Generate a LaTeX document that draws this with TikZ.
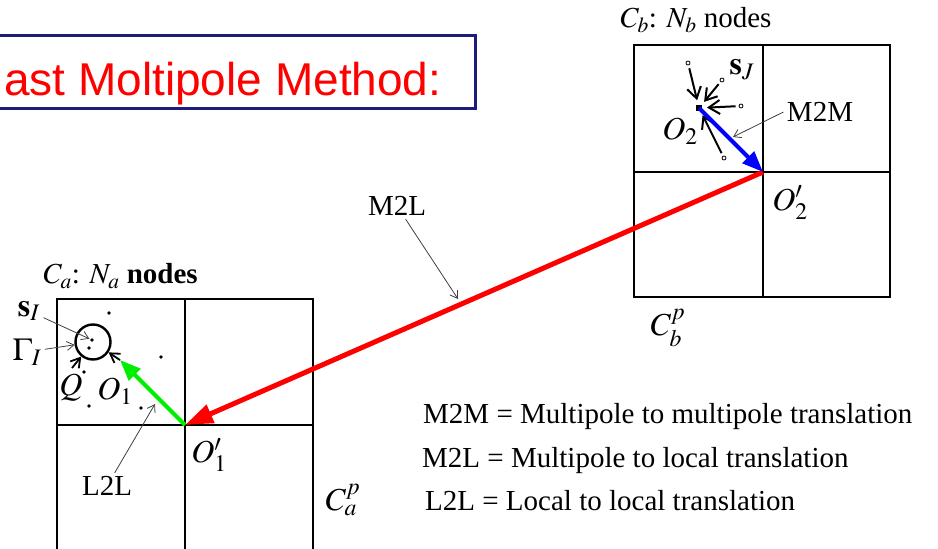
\documentclass[tikz,border=0pt]{standalone}
\usepackage{mathptmx}
\usepackage{fontspec}
\setmainfont{Liberation Serif}
\newfontfamily\titlefont{Liberation Sans}
\usetikzlibrary{arrows.meta}
\definecolor{framenavy}{HTML}{1C1C7C}
\definecolor{m2lred}{HTML}{FF0000}
\definecolor{m2mblue}{HTML}{0000FF}
\definecolor{l2lgreen}{HTML}{00EE00}

\begin{document}
\begin{tikzpicture}[x=1pt,y=-1pt,font=\fontsize{29}{34}\selectfont,
 cellgrid/.style={line width=2.6pt,line cap=rect},
 % Translation operators: flat filled heads, as in the slide.
 bigtransl/.style={line width=5pt,-{Triangle[length=28pt,width=19pt]}},
 transl/.style={line width=4pt,-{Triangle[length=21pt,width=16pt]}},
 pointer/.style={line width=0.8pt,black!75,
   -{Straight Barb[length=7pt,width=9pt]}},
 srcarrow/.style={line width=2pt,-{Straight Barb[length=11pt,width=14pt]},
   shorten >=8pt,shorten <=3pt},
 evalarrow/.style={line width=1.8pt,-{Straight Barb[length=9pt,width=11pt]}},
 tdot/.style={circle,fill,inner sep=0pt,minimum size=3.6pt},
 sdot/.style={circle,draw,fill=white,line width=0.8pt,inner sep=0pt,
   minimum size=4pt},
 mlbl/.style={font=\fontsize{32}{36}\selectfont},
 legend/.style={anchor=base west,inner sep=0pt}]
\useasboundingbox (0,0) rectangle (938,549);

% Title banner, cut by the left edge of the page.
\draw[framenavy,line width=3pt] (-20,35) rectangle (475,108);
\node[font=\titlefont\fontsize{46}{52}\selectfont,text=m2lred,anchor=base west,
 inner sep=0pt] (title) at (4,95) {ast Moltipole Method:};

% Parent cells C_b^p and C_a^p, four children each.
\draw[cellgrid] (634,45) rectangle (890,297) (763,45) -- (763,297)
 (634,172) -- (890,172);
\draw[cellgrid] (57,299) rectangle (313,560) (185,299) -- (185,560)
 (57,425) -- (313,425);

\coordinate (O2) at (699,108);
\coordinate (O2p) at (763,172);
\coordinate (O1p) at (185,425);
\coordinate (O1) at (120,360);
\coordinate (qfoot) at (72,368);

% Sources s_J gathered into O_2.
\node[rectangle,fill,inner sep=0pt,minimum size=6pt] (O2box) at (O2) {};
\node[sdot] (sj1) at (688,63) {};
\node[sdot] (sj2) at (722,80) {};
\node[sdot] (sj3) at (741,106) {};
\node[sdot] (sj4) at (724,158) {};
\foreach \s in {sj1,sj2,sj3,sj4}
  \draw[srcarrow] (\s) -- (O2);

% Targets in C_a and the ball Gamma_I.
\foreach \p [count=\i] in {(109,313),(92,340),(89,348),(161,357),
  (84,372),(89,406),(141,408)}
  \node[tdot] (ti\i) at \p {};
\node[circle,draw,line width=2.4pt,minimum size=35pt,inner sep=0pt]
 (Gamma) at (93,342) {};
\draw[evalarrow] (O1) -- (Gamma);
\draw[evalarrow] (qfoot) -- (Gamma);

% M2M, M2L, L2L.
\draw[bigtransl,m2lred] (O2p) -- (O1p);
\draw[transl,m2mblue] (O2) -- (O2p);
\draw[transl,l2lgreen] (O1p) -- (O1);

% Labels.
\node (lblCb) [anchor=west] at (617,20) {$C_b$: $N_b$ nodes};
\node (lblCa) [anchor=west] at (40,276) {$C_a$: $N_a$ \textbf{nodes}};
\node[mlbl] (lblsJ) at (742,70) {$\mathbf{s}_J$};
\node[mlbl] (lblO2) at (680,131) {$O_2$};
\node[mlbl] (lblO2p) at (790,203) {$O_2'$};
\node[mlbl] (lblCbp) at (668,328) {$C_b^p$};
\node[mlbl] (lblsI) at (29,311) {$\mathbf{s}_I$};
\node[mlbl] (lblGamma) at (27,352) {$\Gamma_I$};
\node[mlbl] (lblQ) at (71,388) {$Q$};
\node[mlbl] (lblO1) at (115,391) {$O_1$};
\node[mlbl] (lblO1p) at (209,455) {$O_1'$};
\node[mlbl] (lblCap) at (343,500) {$C_a^p$};
\draw[pointer,shorten >=1pt] (lblsI) -- (ti2);
\draw[pointer] (lblGamma) -- (Gamma);

\coordinate (m2lpt) at (458,299);
\coordinate (m2mpt) at (733,137);
\coordinate (l2lpt) at (155,404);
\node (lblM2L) at (397,206) {M2L};
\node (lblM2M) at (820,112) {M2M};
\node (lblL2L) at (107,486) {L2L};
\draw[pointer] (lblM2L) -- (m2lpt);
\draw[pointer] (lblM2M.west) -- (m2mpt);
\draw[pointer] (lblL2L) -- (l2lpt);

% Legend.
\node[legend] (legM2M) at (423,423) {M2M = Multipole to multipole translation};
\node[legend] (legM2L) at (422,467) {M2L = Multipole to local translation};
\node[legend] (legL2L) at (425,510) {L2L = Local to local translation};
\end{tikzpicture}
\end{document}
